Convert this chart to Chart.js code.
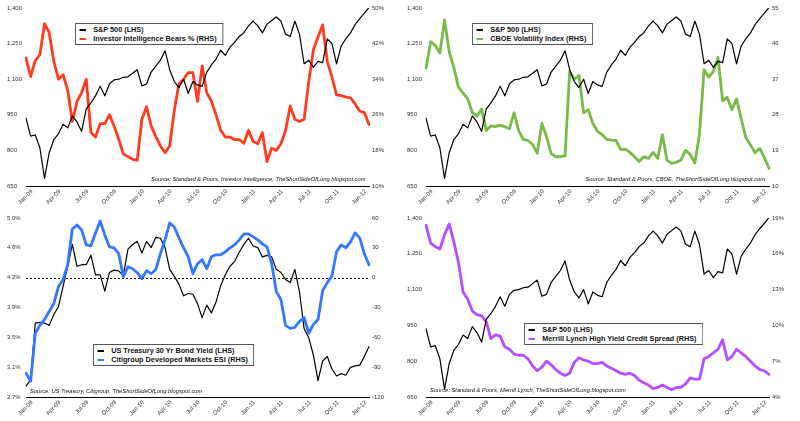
<!DOCTYPE html>
<html>
<head>
<meta charset="utf-8">
<script src="https://cdn.jsdelivr.net/npm/chart.js@4.4.1/dist/chart.umd.min.js"></script>
<style>
body{margin:0;background:#fff;width:800px;height:421px;overflow:hidden;position:relative;font-family:"Liberation Sans",Arial,sans-serif}
canvas{position:absolute}
.legend{position:absolute;background:#fff;border:1px solid #555;font:bold 8px "Liberation Sans",sans-serif;color:#111;padding:1px 6px 1px 4px;line-height:9px;white-space:nowrap;transform:scaleX(0.91);transform-origin:left top}
.legend i{display:inline-block;width:7px;border-top:2px solid;vertical-align:middle;margin-right:8px}
.src{position:absolute;font:italic 6px "Liberation Sans",sans-serif;color:#111;white-space:nowrap;transform:scaleX(0.96)}
.r{transform-origin:right top}
.l{transform-origin:left top}
</style>
</head>
<body>
<canvas id="c1" width="400" height="210" style="left:0;top:0"></canvas>
<canvas id="c2" width="400" height="210" style="left:400px;top:0"></canvas>
<canvas id="c3" width="400" height="211" style="left:0;top:210px"></canvas>
<canvas id="c4" width="400" height="211" style="left:400px;top:210px"></canvas>

<div class="legend" style="left:75px;top:23px"><i style="color:#000"></i>S&amp;P 500 (LHS)<br><i style="color:#ff3c1e"></i>Investor Intelligence Bears % (RHS)</div>
<div class="legend" style="left:472px;top:23px"><i style="color:#000"></i>S&amp;P 500 (LHS)<br><i style="color:#78ba47"></i>CBOE Volatility Index (RHS)</div>
<div class="legend" style="left:93px;top:344px"><i style="color:#000"></i>US Treasury 30 Yr Bond Yield (LHS)<br><i style="color:#3377ff"></i>Citigroup Developed Markets ESI (RHS)</div>
<div class="legend" style="left:524px;top:323px"><i style="color:#000"></i>S&amp;P 500 (LHS)<br><i style="color:#b64dff"></i>Merrill Lynch High Yield Credit Spread (RHS)</div>

<div class="src r" style="right:435px;top:176px">Source: Standard &amp; Poors, Investor Intelligence, TheShortSideOfLong.blogspot.com</div>
<div class="src r" style="right:35px;top:176px">Source: Standard &amp; Poors, CBOE, TheShortSideOfLong.blogspot.com</div>
<div class="src l" style="left:30px;top:388px">Source: US Treasury, Citigroup, TheShortSideOfLong.blogspot.com</div>
<div class="src l" style="left:430px;top:387px">Source: Standard &amp; Poors, Merrill Lynch, TheShortSideOfLong.blogspot.com</div>

<script>
// half-monthly readings, Jan-09 .. mid Feb-12
const quarterLabels = ['Jan-09','Apr-09','Jul-09','Oct-09','Jan-10','Apr-10','Jul-10','Oct-10','Jan-11','Apr-11','Jul-11','Oct-11','Jan-12'];

const spx = [936,860,865,810,682,790,845,870,910,895,945,920,880,975,1000,1030,1070,1030,1080,1097,
  1100,1108,1110,1125,1140,1072,1080,1130,1155,1180,1220,1140,1090,1065,1100,1040,1090,1076,1070,1130,
  1160,1185,1222,1200,1235,1255,1280,1296,1325,1345,1325,1295,1332,1347,1362,1345,1290,1280,1345,1290,
  1165,1180,1150,1175,1170,1270,1250,1165,1240,1270,1295,1330,1355,1378,1402];

const iiBears = [38.7,34.6,38.2,39.5,46.5,44.5,38,34,35,31.5,24.5,29,31,34,22,21,24,24,26,23.5,
  20.5,17.2,16.6,16,15.8,25,27.8,23.5,21.1,19,17.5,19,27,33,34,35.5,35.5,29,37,31,
  29,26,22.5,21,21,20.4,20.4,19.6,22.5,20,19.5,22,15.5,18.5,18,19.5,22.5,28,25,24.5,
  25,33.5,40.6,43.5,46.2,38,34.5,30.5,30.3,30,29.8,28.5,26.8,26.5,23.8];

const vix = [39.8,46.5,45.5,43.6,52,44,40,35,33.5,32,28.6,27.6,29.5,24,25.2,25,25.4,25,24.5,28.5,
  24,21.8,21.5,20.5,18.3,25.8,22.5,18.2,17.4,17.4,17.6,39,37,38,28.5,29.3,25.8,23.8,23,21.8,
  21.6,21.5,19.2,19.3,18.5,17.4,16.2,17.4,17,18.5,17,23,16.5,15.7,16,16.6,19,18,15.8,23,
  39.4,37.5,39,42.5,31.5,32.4,29.3,32,27,22.3,20.4,18.4,19.5,17.2,14.5];

const ust30 = [2.84,2.92,3.65,3.66,3.65,3.62,3.76,3.86,4.12,4.38,4.66,4.38,4.40,4.40,4.52,4.27,4.27,4.06,4.30,4.33,
  4.32,4.26,4.60,4.66,4.70,4.55,4.70,4.62,4.75,4.74,4.62,4.34,4.25,4.15,4.00,4.03,4.02,3.90,3.72,3.88,
  3.78,3.92,4.13,4.27,4.38,4.44,4.56,4.66,4.74,4.64,4.62,4.50,4.52,4.50,4.34,4.30,4.21,4.17,4.34,4.05,
  3.58,3.46,3.24,2.91,3.16,3.22,3.06,2.97,3.00,2.98,3.08,3.10,3.11,3.22,3.35];

const esi = [-96,-104,-56,-48,-42,-34,-26,-9,-2,13,49,53,48,33,32,45,57,43,31,30,
  24,1,11,9,5,-1,7,4,8,24,38,55,51,40,30,21,4,14,18,9,
  21,23,23,26,30,33,38,44,44,41,38,34,31,14,-14,-22,-48,-51,-50,-44,
  -40,-56,-47,-42,-13,-5,2,26,33,30,36,45,40,24,13];

const hySpread = [18.4,16.9,16.6,16.4,17.6,18.5,17,15.3,12.8,12.2,11.2,10.9,10.8,10.3,8.9,9.2,9.1,8.2,8.0,7.6,
  7.5,7.5,7.2,6.6,6.2,6.5,7.0,6.7,6.3,6.0,5.8,6.0,6.9,7.3,7.1,7.0,6.8,6.8,6.9,6.6,
  6.4,6.2,6.0,5.9,6.0,5.8,5.4,5.2,5.0,4.7,4.8,5.0,4.8,4.6,4.8,4.8,5.1,5.6,5.5,5.5,
  7.2,7.4,7.7,8.0,8.8,7.1,7.4,8.0,7.7,7.4,7.0,6.6,6.3,6.2,5.9];

// axis ranges and tick labels (bottom to top)
const spxRange = [650, 1400];
const spxTicks = ['650','800','950','1,100','1,250','1,400'];
const bearsRange = [10, 50];
const bearsTicks = ['10%','18%','26%','34%','42%','50%'];
const vixRange = [10, 55];
const vixTicks = ['10','19','28','37','46','55'];
const ustRange = [2.7, 5.0];
const ustTicks = ['2.7%','3.1%','3.5%','3.9%','4.2%','4.6%','5.0%'];
const esiRange = [-120, 60];
const esiTicks = ['-120','-90','-60','-30','0','30','60'];
const hyRange = [4, 19];
const hyTicks = ['4%','7%','10%','13%','16%','19%'];

const labels = spx.map((v, i) => i % 6 === 0 ? quarterLabels[i / 6] : '');
const tickFont = {size: 6, family: '"Liberation Sans", sans-serif'};

function yAxis(pos, range, ticks, width) {
    return {
        position: pos, min: range[0], max: range[1],
        grid: {display: false, drawTicks: false},
        border: {display: false},
        afterBuildTicks: ax => {
            ax.ticks = ticks.map((t, k) => ({value: range[0] + k * (range[1] - range[0]) / (ticks.length - 1)}));
        },
        afterFit: ax => { ax.width = width; },
        ticks: {
            autoSkip: false, font: tickFont, color: '#333', padding: 3,
            crossAlign: pos === 'left' ? 'far' : 'near',
            callback: (v, k) => ticks[k]
        }
    };
}

function xAxis(h) {
    return {
        type: 'category', offset: false,
        grid: {display: false, drawTicks: false},
        border: {display: true, color: '#000', width: 1},
        afterFit: ax => { ax.height = h; },
        ticks: {autoSkip: false, minRotation: 45, maxRotation: 45, padding: 2, labelOffset: 6,
            font: tickFont, color: '#333'}
    };
}

const zeroLine = {
    id: 'zeroLine',
    beforeDatasetsDraw(chart) {
        if (!chart.options.plugins.zeroLine) return;
        const ctx = chart.ctx, a = chart.chartArea;
        const y = Math.round(chart.scales.y1.getPixelForValue(0)) + 0.5;
        ctx.save();
        ctx.setLineDash([2, 2]);
        ctx.strokeStyle = '#000';
        ctx.lineWidth = 1;
        ctx.beginPath();
        ctx.moveTo(a.left, y);
        ctx.lineTo(a.right, y);
        ctx.stroke();
        ctx.restore();
    }
};

function panel(id, h, left, right, zero) {
    new Chart(document.getElementById(id), {
        type: 'line',
        data: {
            labels: labels,
            datasets: [
                {data: left.data, borderColor: '#000', borderWidth: 1.2, yAxisID: 'y', order: left.order},
                {data: right.data, borderColor: right.color, borderWidth: 2.8, yAxisID: 'y1', order: right.order}
            ]
        },
        options: {
            responsive: false, animation: false,
            layout: {padding: {top: 8, left: 7, right: 0, bottom: 0}},
            elements: {point: {radius: 0}, line: {tension: 0, borderCapStyle: 'round', borderJoinStyle: 'round'}},
            plugins: {legend: {display: false}, tooltip: {enabled: false}, zeroLine: zero},
            scales: {
                x: xAxis(h),
                y: yAxis('left', left.range, left.ticks, 19),
                y1: yAxis('right', right.range, right.ticks, 31)
            }
        },
        plugins: [zeroLine]
    });
}

panel('c1', 24, {data: spx, range: spxRange, ticks: spxTicks, order: 0},
    {data: iiBears, range: bearsRange, ticks: bearsTicks, color: '#ff3c1e', order: 1}, false);
panel('c2', 24, {data: spx, range: spxRange, ticks: spxTicks, order: 0},
    {data: vix, range: vixRange, ticks: vixTicks, color: '#78ba47', order: 1}, false);
panel('c3', 24, {data: ust30, range: ustRange, ticks: ustTicks, order: 1},
    {data: esi, range: esiRange, ticks: esiTicks, color: '#3377ff', order: 0}, true);
panel('c4', 24, {data: spx, range: spxRange, ticks: spxTicks, order: 0},
    {data: hySpread, range: hyRange, ticks: hyTicks, color: '#b64dff', order: 1}, false);
</script>
</body>
</html>
